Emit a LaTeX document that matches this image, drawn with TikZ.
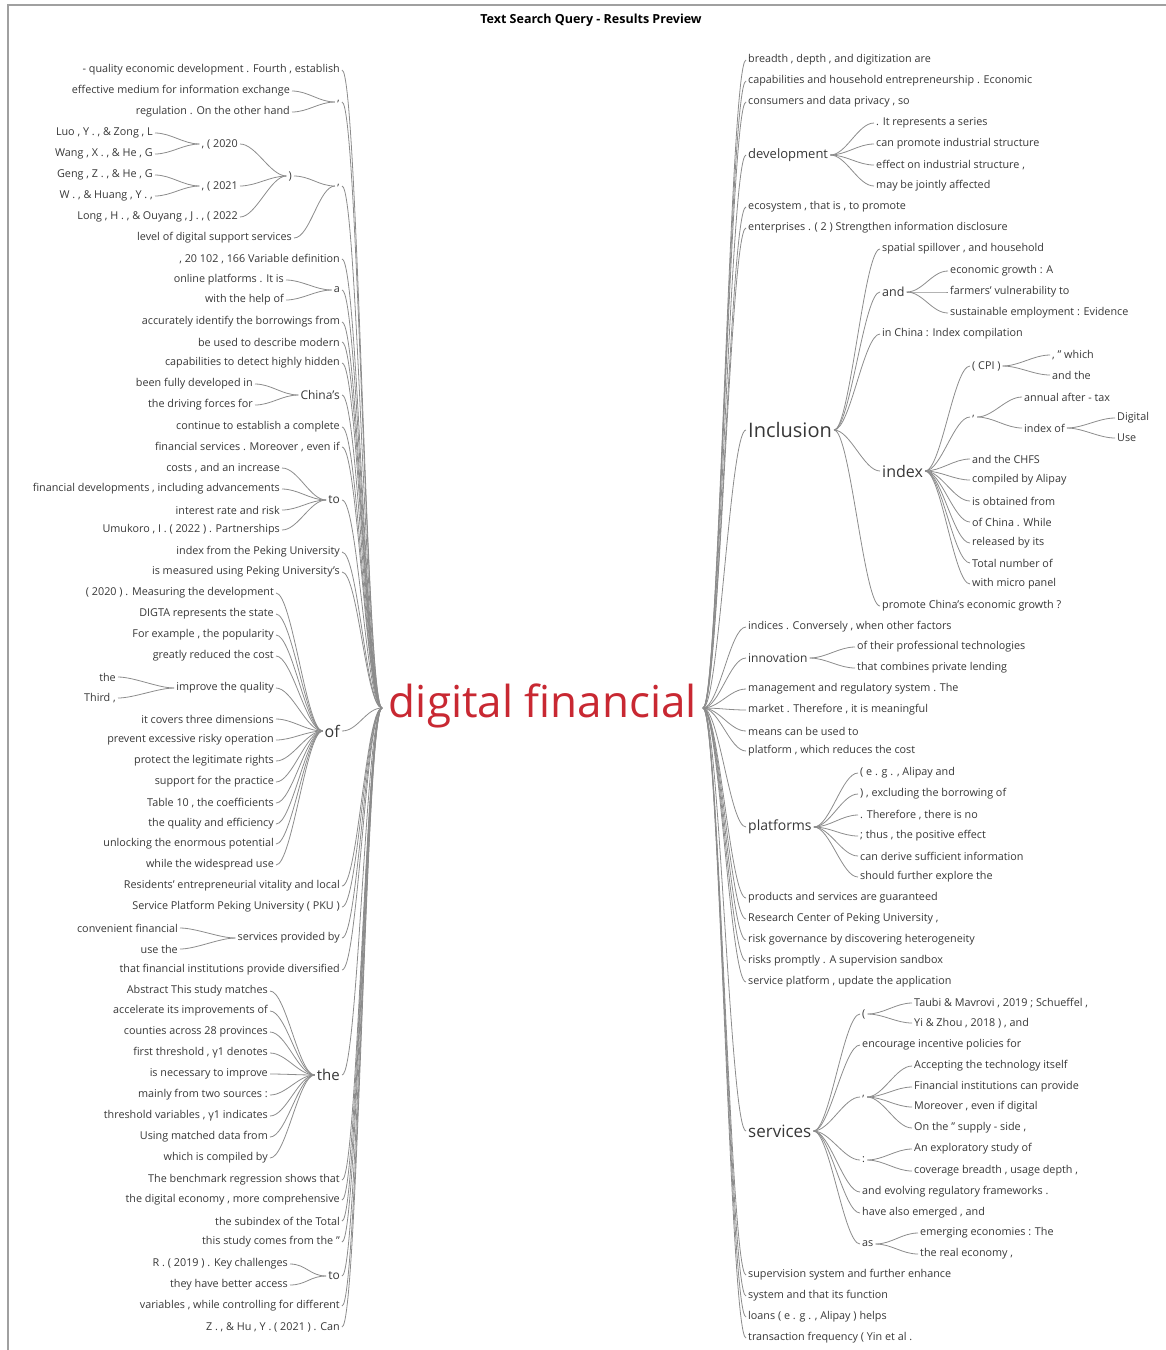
\documentclass[tikz,border=0pt]{standalone}
\usepackage{fontspec}
\setmainfont{Open Sans}

\definecolor{wordgray}{RGB}{55,55,55}
\definecolor{linegray}{RGB}{140,140,140}
\definecolor{framegray}{RGB}{160,160,160}
\definecolor{keyred}{RGB}{200,40,50}

\tikzset{
    word/.style={inner sep=2pt, text=wordgray, font=\fontsize{10.8}{12}\selectfont},
    lword/.style={word, anchor=east},
    rword/.style={word, anchor=west},
    wsize/.style={font=\fontsize{#1}{#1}\selectfont},
    link/.style={draw=linegray, line width=0.8pt},
    lbend/.style={out=180, in=0, distance=16pt},
    rbend/.style={out=0, in=180, distance=16pt},
}

\begin{document}
\begin{tikzpicture}[x=1pt, y=-1pt]
    \useasboundingbox (0,0) rectangle (1166,1350);
    \draw[framegray, line width=2pt] (8,1350) -- (8,5) -- (1166,5);

    \node[font=\bfseries\fontsize{12.5}{14}\selectfont] (title) at (591,20) {Text Search Query - Results Preview};
    \node[text=keyred, font=\fontsize{44}{48}\selectfont, inner sep=0pt] (key) at (543,706) {digital financial};
    \coordinate (hubL) at (382,708);
    \coordinate (hubR) at (703,708);

    % left side, single words
    \foreach \y/\txt [count=\i] in {70/{- quality economic development . Fourth , establish},
        259/{, 20 102 , 166 Variable definition}, 322/{accurately identify the borrowings from},
        342/{be used to describe modern}, 363/{capabilities to detect highly hidden},
        427/{continue to establish a complete}, 447/{financial services . Moreover , even if},
        552/{index from the Peking University}, 572/{is measured using Peking University's},
        886/{Residents' entrepreneurial vitality and local}, 907/{Service Platform Peking University ( PKU )},
        970/{that financial institutions provide diversified}, 1180/{The benchmark regression shows that},
        1200/{the digital economy , more comprehensive}, 1221/{the subindex of the Total},
        1242/{this study comes from the "}, 1306/{variables , while controlling for different},
        1327/{Z . , \& Hu , Y . ( 2021 ) . Can}}
    {
        \node[lword] (lw\i) at (342,\y) {\txt};
        \draw[link] (hubL) to[lbend] (lw\i.east);
    }

    % left side, branches
    \node[lword] (lcomma) at (342,102) {,};
    \draw[link] (hubL) to[lbend] (lcomma.east);
    \foreach \y/\txt [count=\i] in {91/{effective medium for information exchange}, 112/{regulation . On the other hand}}
    {
        \node[lword] (lcomma\i) at (292,\y) {\txt};
        \draw[link] (lcomma.west) to[lbend] (lcomma\i.east);
    }

    \node[lword] (lcite) at (342,186) {,};
    \draw[link] (hubL) to[lbend] (lcite.east);
    \node[lword] (lparen) at (294,176) {)};
    \node[lword] (lyear) at (294,238) {level of digital support services};
    \draw[link] (lcite.west) to[lbend] (lparen.east);
    \draw[link] (lcite.west) to[lbend] (lyear.east);
    \node[lword] (ly20) at (240,144) {, ( 2020};
    \node[lword] (ly21) at (240,186) {, ( 2021};
    \node[lword] (ly22) at (240,217) {Long , H . , \& Ouyang , J . , ( 2022};
    \foreach \n in {ly20,ly21,ly22}
        \draw[link] (lparen.west) to[lbend] (\n.east);
    \node[lword] (la20) at (155,133) {Luo , Y . , \& Zong , L};
    \node[lword] (lb20) at (155,154) {Wang , X . , \& He , G};
    \node[lword] (la21) at (155,175) {Geng , Z . , \& He , G};
    \node[lword] (lb21) at (155,196) {W . , \& Huang , Y . ,};
    \draw[link] (ly20.west) to[lbend] (la20.east);
    \draw[link] (ly20.west) to[lbend] (lb20.east);
    \draw[link] (ly21.west) to[lbend] (la21.east);
    \draw[link] (ly21.west) to[lbend] (lb21.east);

    \node[lword] (la) at (342,290) {a};
    \draw[link] (hubL) to[lbend] (la.east);
    \foreach \y/\txt [count=\i] in {280/{online platforms . It is}, 300/{with the help of}}
    {
        \node[lword] (la\i) at (286,\y) {\txt};
        \draw[link] (la.west) to[lbend] (la\i.east);
    }

    \node[lword, wsize=12] (lchina) at (342,395) {China's};
    \draw[link] (hubL) to[lbend] (lchina.east);
    \foreach \y/\txt [count=\i] in {384/{been fully developed in}, 405/{the driving forces for}}
    {
        \node[lword] (lchina\i) at (255,\y) {\txt};
        \draw[link] (lchina.west) to[lbend] (lchina\i.east);
    }

    \node[lword, wsize=12] (lto) at (342,500) {to};
    \draw[link] (hubL) to[lbend] (lto.east);
    \foreach \y/\txt [count=\i] in {468/{costs , and an increase}, 489/{financial developments , including advancements},
        510/{interest rate and risk}, 530/{Umukoro , I . ( 2022 ) . Partnerships}}
    {
        \node[lword] (lto\i) at (282,\y) {\txt};
        \draw[link] (lto.west) to[lbend] (lto\i.east);
    }

    \node[lword, wsize=16] (lof) at (342,731) {of};
    \draw[link] (hubL) to[lbend] (lof.east);
    \foreach \y/\txt [count=\i] in {593/{( 2020 ) . Measuring the development}, 614/{DIGTA represents the state},
        635/{For example , the popularity}, 656/{greatly reduced the cost}, 688/{improve the quality},
        719/{it covers three dimensions}, 740/{prevent excessive risky operation},
        761/{protect the legitimate rights}, 782/{support for the practice}, 803/{Table 10 , the coefficients},
        824/{the quality and efficiency}, 844/{unlocking the enormous potential}, 865/{while the widespread use}}
    {
        \node[lword] (lof\i) at (276,\y) {\txt};
        \draw[link] (lof.west) to[lbend] (lof\i.east);
    }
    \node[lword] (limp1) at (118,677) {the};
    \node[lword] (limp2) at (118,698) {Third ,};
    \draw[link] (lof5.west) to[lbend] (limp1.east);
    \draw[link] (lof5.west) to[lbend] (limp2.east);

    \node[lword] (lserv) at (342,938) {services provided by};
    \draw[link] (hubL) to[lbend] (lserv.east);
    \foreach \y/\txt [count=\i] in {928/{convenient financial}, 949/{use the}}
    {
        \node[lword] (lserv\i) at (180,\y) {\txt};
        \draw[link] (lserv.west) to[lbend] (lserv\i.east);
    }

    \node[lword, wsize=15] (lthe) at (342,1075) {the};
    \draw[link] (hubL) to[lbend] (lthe.east);
    \foreach \y/\txt [count=\i] in {991/{Abstract This study matches}, 1011/{accelerate its improvements of},
        1032/{counties across 28 provinces}, 1053/{first threshold , γ1 denotes}, 1074/{is necessary to improve},
        1095/{mainly from two sources :}, 1116/{threshold variables , γ1 indicates},
        1137/{Using matched data from}, 1158/{which is compiled by}}
    {
        \node[lword] (lthe\i) at (270,\y) {\txt};
        \draw[link] (lthe.west) to[lbend] (lthe\i.east);
    }

    \node[lword, wsize=12] (ltwo) at (342,1276) {to};
    \draw[link] (hubL) to[lbend] (ltwo.east);
    \foreach \y/\txt [count=\i] in {1264/{R . ( 2019 ) . Key challenges}, 1285/{they have better access}}
    {
        \node[lword] (ltwo\i) at (290,\y) {\txt};
        \draw[link] (ltwo.west) to[lbend] (ltwo\i.east);
    }

    % right side, single words
    \foreach \y/\txt [count=\i] in {60/{breadth , depth , and digitization are},
        81/{capabilities and household entrepreneurship . Economic}, 102/{consumers and data privacy , so},
        207/{ecosystem , that is , to promote}, 228/{enterprises . ( 2 ) Strengthen information disclosure},
        627/{indices . Conversely , when other factors}, 689/{management and regulatory system . The},
        710/{market . Therefore , it is meaningful}, 731/{means can be used to},
        751/{platform , which reduces the cost}, 898/{products and services are guaranteed},
        919/{Research Center of Peking University ,}, 940/{risk governance by discovering heterogeneity},
        961/{risks promptly . A supervision sandbox}, 982/{service platform , update the application},
        1275/{supervision system and further enhance}, 1296/{system and that its function},
        1317/{loans ( e . g . , Alipay ) helps}, 1338/{transaction frequency ( Yin et al .}}
    {
        \node[rword] (rw\i) at (746,\y) {\txt};
        \draw[link] (hubR) to[rbend] (rw\i.west);
    }

    % right side, branches
    \node[rword, wsize=13] (rdev) at (746,155) {development};
    \draw[link] (hubR) to[rbend] (rdev.west);
    \foreach \y/\txt [count=\i] in {123/{. It represents a series}, 144/{can promote industrial structure},
        165/{effect on industrial structure ,}, 186/{may be jointly affected}}
    {
        \node[rword] (rdev\i) at (874,\y) {\txt};
        \draw[link] (rdev.east) to[rbend] (rdev\i.west);
    }

    \node[rword, wsize=20] (rinc) at (746,430) {Inclusion};
    \draw[link] (hubR) to[rbend] (rinc.west);
    \node[rword] (rinc1) at (880,249) {spatial spillover , and household};
    \node[rword, wsize=12.5] (rand) at (880,292) {and};
    \node[rword] (rinc2) at (880,334) {in China : Index compilation};
    \node[rword, wsize=16] (rindex) at (880,471) {index};
    \node[rword] (rinc3) at (880,606) {promote China's economic growth ?};
    \foreach \n in {rinc1,rand,rinc2,rindex,rinc3}
        \draw[link] (rinc.east) to[rbend] (\n.west);
    \foreach \y/\txt [count=\i] in {271/{economic growth : A}, 292/{farmers' vulnerability to},
        313/{sustainable employment : Evidence}}
    {
        \node[rword] (rand\i) at (948,\y) {\txt};
        \draw[link] (rand.east) to[rbend] (rand\i.west);
    }

    \node[rword] (rcpi) at (970,366) {( CPI )};
    \node[rword] (rcomma) at (970,417) {,};
    \draw[link] (rindex.east) to[rbend] (rcpi.west);
    \draw[link] (rindex.east) to[rbend] (rcomma.west);
    \foreach \y/\txt [count=\i] in {459/{and the CHFS}, 480/{compiled by Alipay}, 501/{is obtained from},
        522/{of China . While}, 543/{released by its}, 563/{Total number of}, 584/{with micro panel}}
    {
        \node[rword] (rindex\i) at (970,\y) {\txt};
        \draw[link] (rindex.east) to[rbend] (rindex\i.west);
    }
    \node[rword] (rcpi1) at (1050,355) {, " which};
    \node[rword] (rcpi2) at (1050,375) {and the};
    \draw[link] (rcpi.east) to[rbend] (rcpi1.west);
    \draw[link] (rcpi.east) to[rbend] (rcpi2.west);
    \node[rword] (rtax) at (1022,397) {annual after - tax};
    \node[rword] (rixof) at (1022,428) {index of};
    \draw[link] (rcomma.east) to[rbend] (rtax.west);
    \draw[link] (rcomma.east) to[rbend] (rixof.west);
    \node[rword] (rixof1) at (1115,418) {Digital};
    \node[rword] (rixof2) at (1115,438) {Use};
    \draw[link] (rixof.east) to[rbend] (rixof1.west);
    \draw[link] (rixof.east) to[rbend] (rixof2.west);

    \node[rword, wsize=12] (rinn) at (746,658) {innovation};
    \draw[link] (hubR) to[rbend] (rinn.west);
    \foreach \y/\txt [count=\i] in {647/{of their professional technologies}, 668/{that combines private lending}}
    {
        \node[rword] (rinn\i) at (855,\y) {\txt};
        \draw[link] (rinn.east) to[rbend] (rinn\i.west);
    }

    \node[rword, wsize=14] (rplat) at (746,827) {platforms};
    \draw[link] (hubR) to[rbend] (rplat.west);
    \foreach \y/\txt [count=\i] in {773/{( e . g . , Alipay and}, 794/{) , excluding the borrowing of},
        815/{. Therefore , there is no}, 836/{; thus , the positive effect},
        856/{can derive sufficient information}, 877/{should further explore the}}
    {
        \node[rword] (rplat\i) at (858,\y) {\txt};
        \draw[link] (rplat.east) to[rbend] (rplat\i.west);
    }

    \node[rword, wsize=17] (rserv) at (746,1131) {services};
    \draw[link] (hubR) to[rbend] (rserv.west);
    \node[rword] (rpar) at (860,1014) {(};
    \node[rword] (rserv1) at (860,1045) {encourage incentive policies for};
    \node[rword] (rdot) at (860,1097) {,};
    \node[rword] (rcolon) at (860,1160) {:};
    \node[rword] (rserv2) at (860,1192) {and evolving regulatory frameworks .};
    \node[rword] (rserv3) at (860,1213) {have also emerged , and};
    \node[rword] (ras) at (860,1244) {as};
    \foreach \n in {rpar,rserv1,rdot,rcolon,rserv2,rserv3,ras}
        \draw[link] (rserv.east) to[rbend] (\n.west);
    \node[rword] (rpar1) at (912,1003) {Taubi \& Mavrovi , 2019 ; Schueffel ,};
    \node[rword] (rpar2) at (912,1023) {Yi \& Zhou , 2018 ) , and};
    \draw[link] (rpar.east) to[rbend] (rpar1.west);
    \draw[link] (rpar.east) to[rbend] (rpar2.west);
    \foreach \y/\txt [count=\i] in {1066/{Accepting the technology itself}, 1087/{Financial institutions can provide},
        1107/{Moreover , even if digital}, 1128/{On the " supply - side ,}}
    {
        \node[rword] (rdot\i) at (912,\y) {\txt};
        \draw[link] (rdot.east) to[rbend] (rdot\i.west);
    }
    \node[rword] (rcolon1) at (912,1149) {An exploratory study of};
    \node[rword] (rcolon2) at (912,1171) {coverage breadth , usage depth ,};
    \draw[link] (rcolon.east) to[rbend] (rcolon1.west);
    \draw[link] (rcolon.east) to[rbend] (rcolon2.west);
    \node[rword] (ras1) at (918,1233) {emerging economies : The};
    \node[rword] (ras2) at (918,1254) {the real economy ,};
    \draw[link] (ras.east) to[rbend] (ras1.west);
    \draw[link] (ras.east) to[rbend] (ras2.west);
\end{tikzpicture}
\end{document}
